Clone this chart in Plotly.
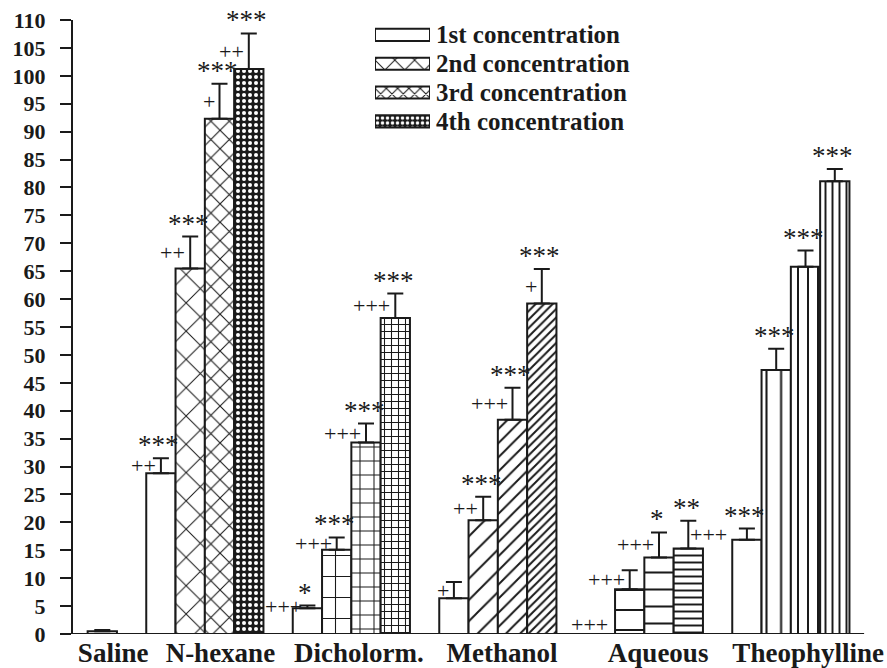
import plotly.graph_objects as go

# ---- data -------------------------------------------------------------
groups = ["N-hexane", "Dicholorm.", "Methanol", "Aqueous", "Theophylline"]
conc_names = ["1st concentration", "2nd concentration",
              "3rd concentration", "4th concentration"]

saline_value = 0.5
saline_err = 0.2

conc1 = [28.8, 4.6, 6.4, 0.0, 16.9]
conc2 = [65.5, 15.1, 20.4, 8.0, 47.3]
conc3 = [92.3, 34.3, 38.4, 13.7, 65.8]
conc4 = [101.2, 56.6, 59.2, 15.3, 81.1]

err1 = [2.7, 0.5, 2.9, 0.0, 2.0]
err2 = [5.7, 2.2, 4.2, 3.4, 3.8]
err3 = [6.3, 3.4, 5.7, 4.5, 2.9]
err4 = [6.4, 4.4, 6.2, 5.0, 2.2]

stars1 = ["***", "*", "", "", "***"]
stars2 = ["***", "***", "***", "", "***"]
stars3 = ["***", "***", "***", "*", "***"]
stars4 = ["***", "***", "***", "**", "***"]

plus1 = ["++", "+++", "+", "+++", ""]
plus2 = ["++", "+++", "++", "+++", ""]
plus3 = ["+", "+++", "+++", "+++", ""]
plus4 = ["++", "+++", "+", "+++", ""]

y_ticks = list(range(0, 111, 5))

values = [conc1, conc2, conc3, conc4]
errors = [err1, err2, err3, err4]
stars = [stars1, stars2, stars3, stars4]
pluses = [plus1, plus2, plus3, plus4]

# ---- styling ----------------------------------------------------------
SERIF = "Liberation Serif, Times New Roman, serif"
BLACK = "#1a1a1a"
STAR_SIZE = 27
PLUS_SIZE = 22

# fill pattern per concentration (rows) and extract (columns):
# (shape, size, solidity, fgcolor, bgcolor)
E = ("", 8, 0.2, BLACK, "white")
PATTERNS = [
    [E, E, E, E, E],
    [("x", 20, 0.10, BLACK, "white"), ("+", 21, 0.10, BLACK, "white"),
     ("/", 15, 0.13, BLACK, "white"), ("-", 20, 0.10, BLACK, "white"),
     ("|", 14.6, 0.14, BLACK, "white")],
    [("x", 13, 0.16, BLACK, "white"), ("+", 14, 0.14, BLACK, "white"),
     ("/", 10, 0.20, BLACK, "white"), ("-", 17, 0.12, BLACK, "white"),
     ("|", 10, 0.20, BLACK, "white")],
    [(".", 6, 0.35, "white", BLACK), ("+", 7, 0.28, BLACK, "white"),
     ("/", 6, 0.33, BLACK, "white"), ("-", 7, 0.28, BLACK, "white"),
     ("|", 7, 0.28, BLACK, "white")],
]
LEGEND_PATTERNS = [E, ("x", 14, 0.14, BLACK, "white"),
                   ("x", 8, 0.25, BLACK, "white"), (".", 5, 0.38, "white", BLACK)]

SLOT_PX = 29.3          # one bar width in pixels
PLOT_W, PLOT_H = 814, 618
X_MAX = PLOT_W / SLOT_PX


def slot(g, k):
    # saline occupies slot 1, each extract group takes 4 adjacent slots + 1 gap
    return 3 + 5 * g + k


fig = go.Figure()

# saline control bar
fig.add_trace(go.Bar(
    x=[1], y=[saline_value], width=1,
    marker=dict(color="white", line=dict(color=BLACK, width=2)),
    error_y=dict(type="data", array=[saline_err], arrayminus=[0],
                 symmetric=False, color=BLACK, thickness=2, width=8),
    showlegend=False,
))

annotations = []
for k in range(4):
    xs = [slot(g, k) for g in range(len(groups))]
    pats = PATTERNS[k]
    fig.add_trace(go.Bar(
        x=xs, y=values[k], width=1, name=conc_names[k], showlegend=False,
        marker=dict(
            color="white",
            line=dict(color=BLACK, width=2),
            pattern=dict(
                shape=[p[0] for p in pats],
                size=[p[1] for p in pats],
                solidity=[p[2] for p in pats],
                fgcolor=[p[3] for p in pats],
                bgcolor=[p[4] for p in pats],
                fillmode="replace",
            ),
        ),
        error_y=dict(type="data", array=errors[k], arrayminus=[0] * len(groups),
                     symmetric=False, color=BLACK, thickness=2, width=8),
    ))
    for g in range(len(groups)):
        v, e, x = values[k][g], errors[k][g], xs[g]
        top = v + e
        if stars[k][g]:
            annotations.append(dict(
                x=x, y=top, xref="x", yref="y", text=stars[k][g],
                showarrow=False, xanchor="center", yanchor="middle",
                xshift=-2, yshift=13,
                font=dict(family=SERIF, size=STAR_SIZE, color=BLACK)))
        if pluses[k][g]:
            if v == 0:
                # no bar drawn: mark sits just above the baseline
                annotations.append(dict(
                    x=x, y=0, xref="x", yref="y", text=pluses[k][g],
                    showarrow=False, xanchor="right", yanchor="middle",
                    xshift=10, yshift=10,
                    font=dict(family=SERIF, size=PLUS_SIZE, color=BLACK)))
            elif k == 3 and g == 3:
                annotations.append(dict(
                    x=x, y=v + e / 2, xref="x", yref="y", text=pluses[k][g],
                    showarrow=False, xanchor="left", yanchor="middle",
                    xshift=0, yshift=0,
                    font=dict(family=SERIF, size=PLUS_SIZE, color=BLACK)))
            else:
                annotations.append(dict(
                    x=x, y=v + e / 2, xref="x", yref="y", text=pluses[k][g],
                    showarrow=False, xanchor="right", yanchor="middle",
                    xshift=-3, yshift=0,
                    font=dict(family=SERIF, size=PLUS_SIZE, color=BLACK)))

# legend drawn as an inset of wide patterned boxes
for k in range(4):
    p = LEGEND_PATTERNS[k]
    fig.add_trace(go.Bar(
        x=[1], y=[3 - k], orientation="h", width=0.42, base=0,
        xaxis="x2", yaxis="y2", showlegend=False, hoverinfo="skip",
        marker=dict(color="white", line=dict(color=BLACK, width=2),
                    pattern=dict(shape=p[0], size=p[1], solidity=p[2],
                                 fgcolor=p[3], bgcolor=p[4], fillmode="replace")),
    ))
    annotations.append(dict(
        x=1, y=3 - k, xref="x2", yref="y2", text=conc_names[k],
        showarrow=False, xanchor="left", yanchor="middle", xshift=4,
        font=dict(family=SERIF, size=25, color=BLACK, weight="bold")))

# category labels below the baseline
LABEL_X = [1.37, 5.03, 9.76, 14.64, 19.97, 25.09]
LABELS = ["Saline"] + groups

fig.update_layout(
    width=887, height=668,
    margin=dict(l=73, r=0, t=20, b=30),
    paper_bgcolor="white", plot_bgcolor="white",
    barmode="overlay",
    showlegend=False,
    annotations=annotations,
    shapes=[dict(type="line", xref="x", yref="y", x0=0, x1=27, y0=0, y1=0,
                 line=dict(color=BLACK, width=2))],
    xaxis=dict(range=[0, X_MAX], showgrid=False, zeroline=False, showline=False,
               tickvals=LABEL_X, ticktext=LABELS, ticks="", ticklen=0,
               tickfont=dict(family=SERIF, size=27, color=BLACK, weight="bold")),
    yaxis=dict(range=[0, 110], showgrid=False, zeroline=False,
               showline=True, linecolor=BLACK, linewidth=2,
               tickvals=y_ticks, ticks="outside", ticklen=11, tickwidth=2,
               tickcolor=BLACK, ticklabelstandoff=10,
               tickfont=dict(family=SERIF, size=22, color=BLACK, weight="bold")),
    xaxis2=dict(domain=[(375 - 73) / PLOT_W, (430 - 73) / PLOT_W], range=[0, 1],
                anchor="y2", visible=False, fixedrange=True),
    yaxis2=dict(domain=[(638 - 136.5) / PLOT_H, (638 - 20.5) / PLOT_H],
                range=[-0.5, 3.5], anchor="x2", visible=False, fixedrange=True),
)

fig.write_html("out.html")
